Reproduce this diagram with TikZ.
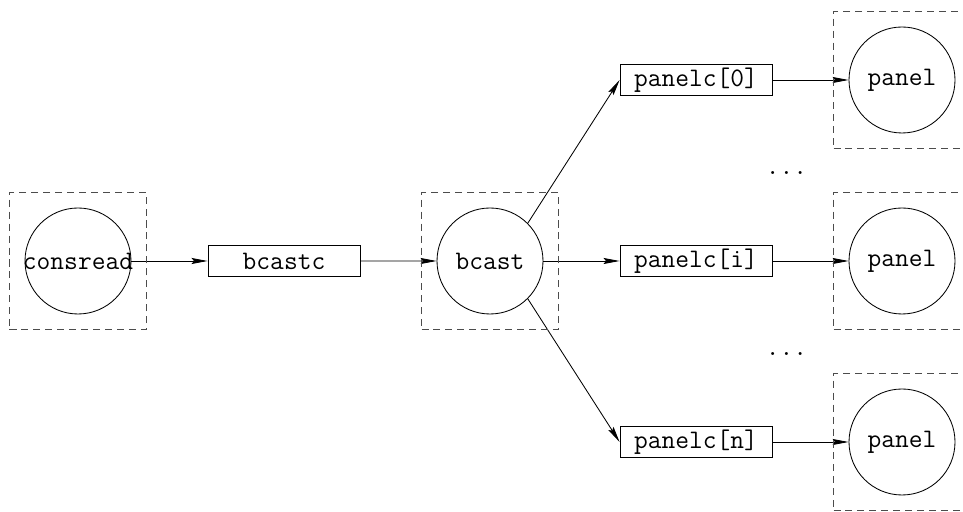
\documentclass[tikz,border=0pt]{standalone}
\usetikzlibrary{trees,arrows.meta}

\begin{document}
\begin{tikzpicture}[
  grow'=right,
  level distance=51.5mm,
  level 3/.style={sibling distance=45.25mm},
  level 4/.style={parent anchor=east},
  parent anchor=east, child anchor=west,
  edge from parent/.style={draw,-{Stealth[length=4mm,width=1.5mm,inset=0.6mm]},
  line width=0.6pt},
  every node/.style={font=\ttfamily\fontsize{19}{22}\selectfont, line width=0.6pt},
  proc/.style={draw, circle, minimum size=26.5mm, inner sep=0pt},
  chan/.style={draw, rectangle, minimum width=38mm, minimum height=7.75mm, inner sep=0pt},
  procbox/.style={draw, black!70, dash pattern=on 5pt off 3.5pt, minimum size=34.25mm,
  inner sep=0pt}
]
\clip (-19.5mm,-62.75mm) rectangle (221.25mm,65.25mm);
\node[proc] (cr) {\makebox[0pt]{consread}}
  child {node[chan] (bcc) {bcastc}
    child {node[proc] (bc) {bcast}
      child[parent anchor=north east] {node[chan] (pc0) {panelc[0]}
        child {node[proc] (p0) {panel}}}
      child {node[chan] (pci) {panelc[i]}
        child {node[proc] (pi) {panel}}}
      child[parent anchor=south east] {node[chan] (pcn) {panelc[n]}
        child {node[proc] (pn) {panel}}}}};

\foreach \n in {cr,bc,p0,pi,pn}
  \node[procbox] (\n box) at (\n) {};

\path (pc0.east) -- (pci.east) node[pos=0.5, xshift=3.5mm, anchor=base, yshift=-1mm] (dots0) {...};
\path (pci.east) -- (pcn.east) node[pos=0.5, xshift=3.5mm, anchor=base, yshift=-1mm] (dots1) {...};

\end{tikzpicture}
\end{document}
